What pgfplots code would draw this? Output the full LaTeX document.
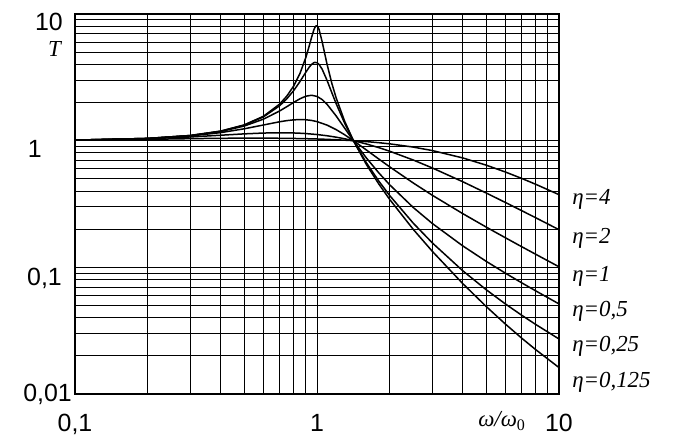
\documentclass[border=0pt]{standalone}
\usepackage{fontspec}
\setmainfont{Liberation Sans}
\newfontfamily\serif{Liberation Serif}
\usepackage{pgfplots}
\pgfplotsset{compat=1.18}
\newcommand{\tickfont}{\fontsize{25}{30}\selectfont}
\newcommand{\labfont}{\serif\itshape\fontsize{23}{27}\selectfont}
\newcommand{\gap}[1]{\rule{#1}{0pt}}
\begin{document}
\begin{tikzpicture}
\useasboundingbox (0,0) rectangle (699bp,448bp);
\begin{axis}[
  at={(75bp,54bp)}, anchor=south west,
  scale only axis, width=484bp, height=380bp,
  xmode=log, ymode=log,
  xmin=0.1, xmax=10, ymin=0.01, ymax=10,
  grid=both,
  major grid style={black, line width=0.9bp},
  minor grid style={black, line width=0.9bp},
  axis line style={black, line width=1.2bp},
  major tick length=0pt, minor tick length=0pt,
  xtick={0.1,1,10},
  xticklabels={{0,1},{1},{10}},
  minor xtick={0.2,0.3,0.4,0.5,0.6,0.7,0.8,0.9,2,3,4,5,6,7,8,9},
  ytick={0.01,0.1,1,10},
  yticklabels={{\raisebox{-7bp}{0,01}\gap{3bp}},{\raisebox{-18bp}{0,1}\gap{13bp}},{\raisebox{-17bp}{1}\gap{33bp}},{\raisebox{-17bp}{10}\gap{12bp}}},
  minor ytick={0.02,0.03,0.04,0.05,0.06,0.07,0.08,0.09,0.2,0.3,0.4,0.5,0.6,0.7,0.8,0.9,2,3,4,5,6,7,8,9},
  xticklabel style={anchor=base, inner sep=0pt, yshift=-37bp, font=\tickfont},
  yticklabel style={anchor=base east, inner sep=0pt, font=\tickfont},
  clip=false,
  curve/.style={black, line width=1.5bp, no marks, line join=round},
]
% eta = 4
\addplot[curve] coordinates {(0.1,1.0087)(0.2,1.0248)(0.3,1.0372)(0.4,1.0441)(0.5,1.0468)(0.6,1.0468)(0.7,1.0447)(0.8,1.0411)(0.9,1.0364)(1.0,1.0308)(1.1,1.0243)(1.2,1.0172)(1.414,1.0)(1.6,0.9833)(1.8,0.9640)(2,0.9436)(2.5,0.8898)(3,0.8349)(4,0.7310)(5,0.6410)(6,0.5660)(7,0.5042)(8,0.4531)(10,0.3747)};
% eta = 2
\addplot[curve] coordinates {(0.1,1.0097)(0.2,1.0356)(0.3,1.0699)(0.4,1.1040)(0.5,1.1314)(0.6,1.1486)(0.7,1.1547)(0.8,1.1505)(0.85,1.1450)(0.9,1.1376)(1.0,1.1180)(1.1,1.0935)(1.2,1.0656)(1.3,1.0356)(1.414,1.0)(1.6,0.9418)(1.8,0.8812)(2,0.8246)(2.5,0.7033)(3,0.6083)(4,0.4743)(5,0.3865)(6,0.3254)(7,0.2807)(8,0.2466)(10,0.1983)};
% eta = 1
\addplot[curve] coordinates {(0.1,1.0100)(0.2,1.0400)(0.3,1.0896)(0.4,1.1576)(0.5,1.2403)(0.6,1.3293)(0.7,1.4094)(0.75,1.4396)(0.8,1.4598)(0.85,1.4678)(0.9,1.4626)(0.95,1.4443)(1.0,1.4142)(1.1,1.3275)(1.2,1.2222)(1.3,1.1144)(1.414,1.0)(1.6,0.8443)(1.8,0.7166)(2,0.6202)(2.5,0.4631)(3,0.3701)(4,0.2656)(5,0.2080)(6,0.1713)(7,0.1458)(8,0.1270)(10,0.1010)};
% eta = 0.5
\addplot[curve] coordinates {(0.1,1.0101)(0.2,1.0412)(0.3,1.0964)(0.4,1.1810)(0.5,1.3038)(0.6,1.4771)(0.7,1.7129)(0.75,1.8535)(0.8,2.0014)(0.85,2.1407)(0.9,2.2450)(0.95,2.2831)(1.0,2.2361)(1.05,2.1114)(1.1,1.9385)(1.2,1.5674)(1.3,1.2582)(1.414,1.0)(1.6,0.7305)(1.8,0.5573)(2,0.4472)(2.5,0.2966)(3,0.2215)(4,0.1478)(5,0.1116)(6,0.09002)(7,0.07563)(8,0.06531)(10,0.05144)};
% eta = 0.25
\addplot[curve] coordinates {(0.1,1.0101)(0.2,1.0416)(0.3,1.0983)(0.4,1.1880)(0.5,1.3254)(0.6,1.5383)(0.7,1.8828)(0.75,2.1375)(0.8,2.4763)(0.85,2.9250)(0.9,3.4806)(0.93,3.8180)(0.95,4.0034)(0.97,4.1226)(0.98,4.1485)(1.0,4.1231)(1.02,3.9972)(1.05,3.6688)(1.1,2.9974)(1.15,2.4083)(1.2,1.9605)(1.3,1.3786)(1.414,1.0)(1.6,0.6688)(1.8,0.4800)(2,0.3676)(2.5,0.2230)(3,0.1556)(4,0.09407)(5,0.06661)(6,0.05146)(7,0.04196)(8,0.03548)(10,0.02719)};
% eta = 0.125
\addplot[curve] coordinates {(0.1,1.0101)(0.2,1.0416)(0.3,1.0987)(0.4,1.1899)(0.5,1.3313)(0.6,1.5562)(0.7,1.9399)(0.75,2.2448)(0.8,2.6898)(0.85,3.3842)(0.9,4.5574)(0.93,5.6485)(0.95,6.5541)(0.97,7.4678)(0.98,7.8256)(0.99,8.0392)(1.0,8.0623)(1.01,7.8844)(1.02,7.5374)(1.05,6.0563)(1.1,4.0214)(1.15,2.8612)(1.2,2.1752)(1.3,1.4292)(1.414,1.0)(1.6,0.6484)(1.8,0.4553)(2,0.3424)(2.5,0.1992)(3,0.1334)(4,0.07449)(5,0.04912)(6,0.03571)(7,0.02768)(8,0.02245)(10,0.01617)};
% labels
\node[anchor=base west, inner sep=0pt, font=\labfont] at (rel axis cs:1.027,0.500) {η=4};
\node[anchor=base west, inner sep=0pt, font=\labfont] at (rel axis cs:1.027,0.395) {η=2};
\node[anchor=base west, inner sep=0pt, font=\labfont] at (rel axis cs:1.027,0.295) {η=1};
\node[anchor=base west, inner sep=0pt, font=\labfont] at (rel axis cs:1.027,0.203) {η=0,5};
\node[anchor=base west, inner sep=0pt, font=\labfont] at (rel axis cs:1.027,0.111) {η=0,25};
\node[anchor=base west, inner sep=0pt, font=\labfont] at (rel axis cs:1.027,0.018) {η=0,125};
\node[inner sep=0pt, font=\labfont] at (rel axis cs:-0.0424,0.909) {T};
\node[inner sep=0pt, font=\labfont] at (rel axis cs:0.882,-0.071) {ω/ω\textsubscript{\upshape 0}};
\end{axis}
\end{tikzpicture}
\end{document}
